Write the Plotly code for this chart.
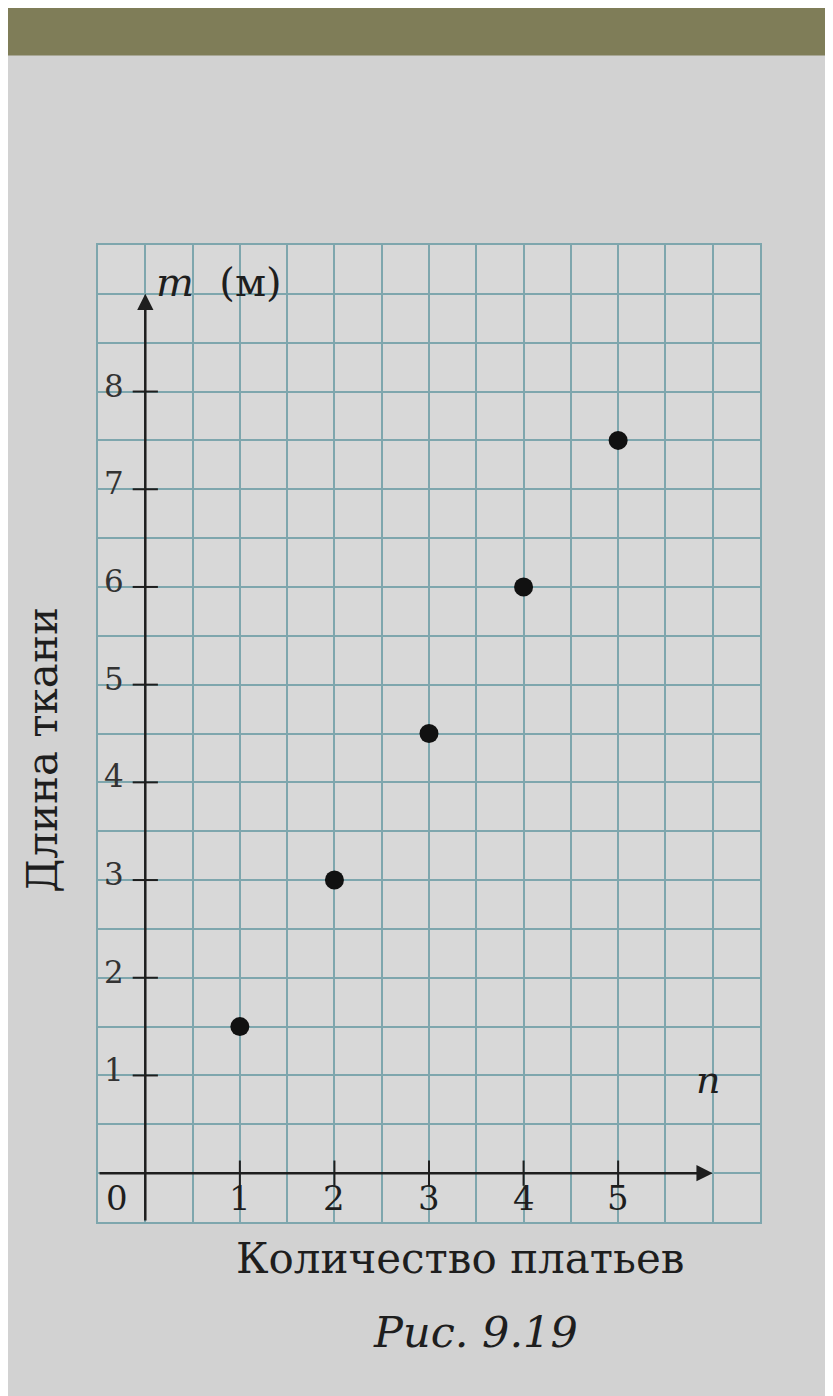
import plotly.graph_objects as go

# Data
n_dresses = [1, 2, 3, 4, 5]
fabric_m = [1.5, 3, 4.5, 6, 7.5]

x_tick_vals = [1, 2, 3, 4, 5]
x_tick_text = ["1", "2", "3", "4", "5"]
y_tick_vals = [1, 2, 3, 4, 5, 6, 7, 8]
y_tick_text = ["1", "2", "3", "4", "5", "6", "7", "8"]

x_title = "Количество платьев"
y_title = "Длина ткани"
y_unit = "<i>m</i>  (м)"
x_unit = "<i>n</i>"
caption = "<i>Рис. 9.19</i>"

FONT = "DejaVu Serif"
GRID = "#7ea6ad"
INK = "#1e1e1e"

fig = go.Figure()

# tick marks on the axes (crosses through the axis lines)
fig.add_trace(go.Scatter(
    x=[0] * len(y_tick_vals), y=y_tick_vals, mode="markers",
    marker=dict(symbol="line-ew", size=18, line=dict(width=2, color=INK)),
    hoverinfo="skip", showlegend=False))
fig.add_trace(go.Scatter(
    x=x_tick_vals, y=[0] * len(x_tick_vals), mode="markers",
    marker=dict(symbol="line-ns", size=18, line=dict(width=2, color=INK)),
    hoverinfo="skip", showlegend=False))

# data points
fig.add_trace(go.Scatter(
    x=n_dresses, y=fabric_m, mode="markers",
    marker=dict(size=19, color="#111111"),
    showlegend=False))

annotations = []
# axes with arrows
annotations.append(dict(x=6.0, y=0, ax=-0.5, ay=0, xref="x", yref="y", axref="x", ayref="y",
                        showarrow=True, arrowhead=2, arrowsize=1.3, arrowwidth=2.5,
                        arrowcolor=INK, text=""))
annotations.append(dict(x=0, y=9.0, ax=0, ay=-0.5, xref="x", yref="y", axref="x", ayref="y",
                        showarrow=True, arrowhead=2, arrowsize=1.3, arrowwidth=2.5,
                        arrowcolor=INK, text=""))
# tick labels
for v, t in zip(x_tick_vals, x_tick_text):
    annotations.append(dict(x=v, y=-0.25, xref="x", yref="y", text=t, showarrow=False,
                            xanchor="center", yanchor="middle",
                            font=dict(family=FONT, size=34, color=INK)))
for v, t in zip(y_tick_vals, y_tick_text):
    annotations.append(dict(x=-0.33, y=v + 0.06, xref="x", yref="y", text=t, showarrow=False,
                            xanchor="center", yanchor="middle",
                            font=dict(family=FONT, size=31, color="#333333")))
annotations.append(dict(x=-0.3, y=-0.25, xref="x", yref="y", text="0", showarrow=False,
                        xanchor="center", yanchor="middle",
                        font=dict(family=FONT, size=34, color=INK)))
# axis unit labels
annotations.append(dict(x=0.78, y=9.12, xref="x", yref="y", text=y_unit, showarrow=False,
                        xanchor="center", yanchor="middle",
                        font=dict(family=FONT, size=40, color=INK)))
annotations.append(dict(x=5.95, y=0.95, xref="x", yref="y", text=x_unit, showarrow=False,
                        xanchor="center", yanchor="middle",
                        font=dict(family=FONT, size=38, color=INK)))
# titles
annotations.append(dict(x=-0.085, y=0.483, xref="paper", yref="paper", text=y_title,
                        textangle=-90, showarrow=False, xanchor="center", yanchor="middle",
                        font=dict(family=FONT, size=42, color=INK)))
annotations.append(dict(x=0.547, y=-0.037, xref="paper", yref="paper", text=x_title,
                        showarrow=False, xanchor="center", yanchor="middle",
                        font=dict(family=FONT, size=42, color=INK)))
annotations.append(dict(x=0.57, y=-0.113, xref="paper", yref="paper", text=caption,
                        showarrow=False, xanchor="center", yanchor="middle",
                        font=dict(family=FONT, size=43, color=INK)))

shapes = [
    # top band of the photo (fabric behind the page)
    dict(type="rect", xref="paper", yref="paper", x0=-0.2, x1=1.2, y0=1.194, y1=1.26,
         fillcolor="#7f7d58", line=dict(width=0), layer="below"),
]

fig.update_layout(
    width=833, height=1396,
    margin=dict(l=90, r=81, t=237, b=182),
    paper_bgcolor="#d2d2d2",
    plot_bgcolor="#d8d8d8",
    annotations=annotations,
    shapes=shapes,
    xaxis=dict(range=[-0.5, 6.5], dtick=0.5, tick0=0, showgrid=True, gridcolor=GRID, gridwidth=1.5,
               zeroline=False, showticklabels=False, ticks="",
               showline=True, mirror=True, linecolor=GRID, linewidth=1.5, fixedrange=True),
    yaxis=dict(range=[-0.5, 9.5], dtick=0.5, tick0=0, showgrid=True, gridcolor=GRID, gridwidth=1.5,
               zeroline=False, showticklabels=False, ticks="",
               showline=True, mirror=True, linecolor=GRID, linewidth=1.5, fixedrange=True),
    showlegend=False,
)

fig.write_html("out.html")
